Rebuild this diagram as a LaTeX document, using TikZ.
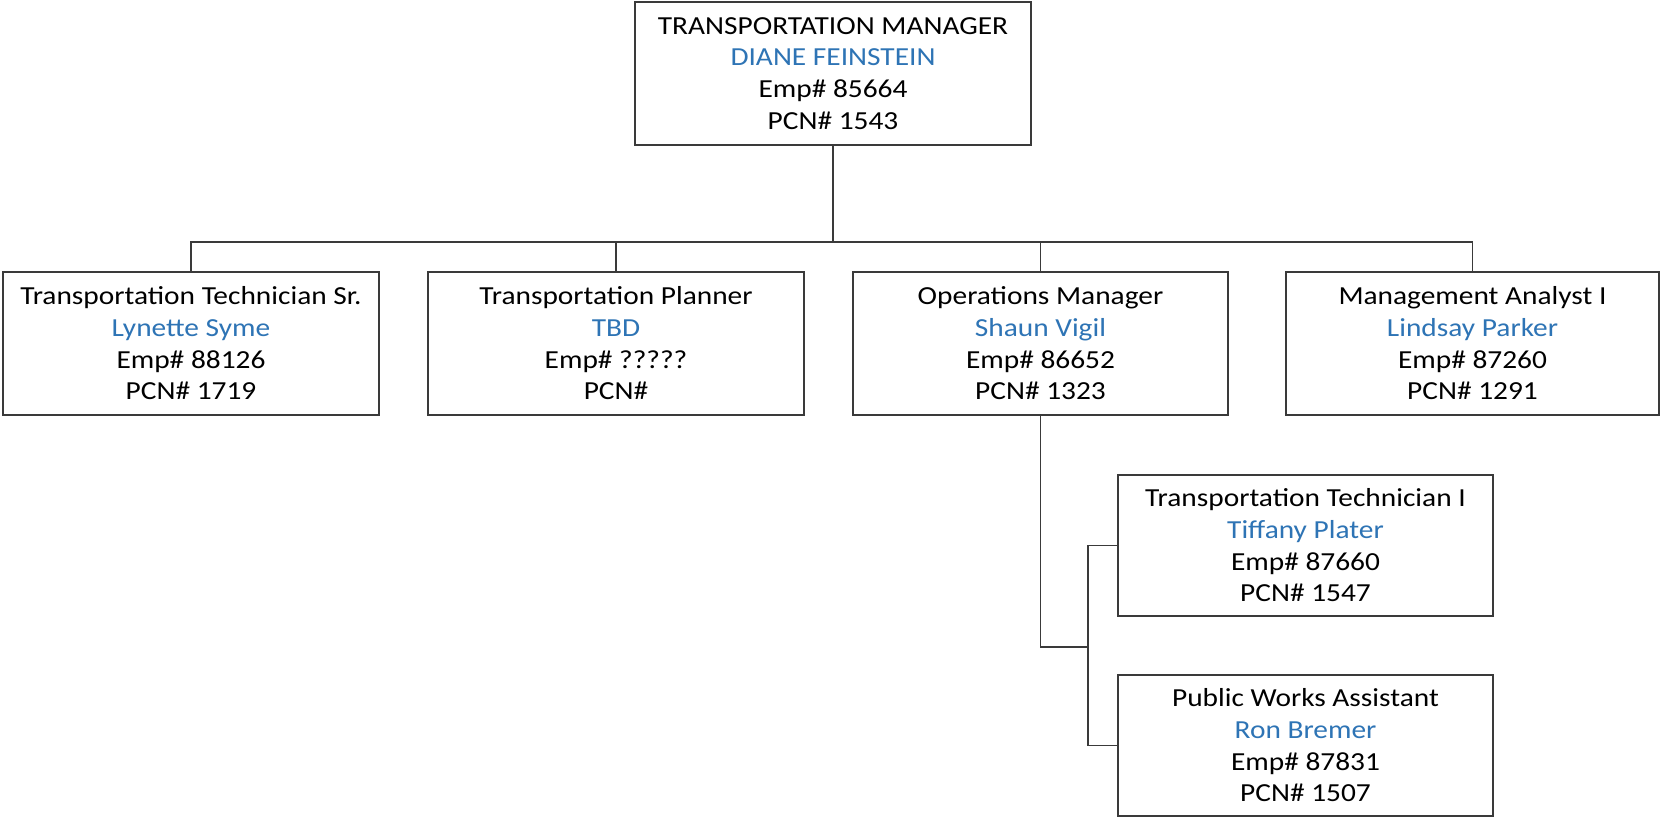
\documentclass[tikz,border=0pt]{standalone}
\usepackage{fontspec}
\setmainfont{Carlito}[FakeStretch=1.13]
\usepackage{tikz}

\begin{document}
\begin{tikzpicture}[x=0.5pt, y=-0.5pt,
  posto/.style={draw=lineGray, line width=0.7pt, fill=white, inner sep=0pt,
    align=center, minimum width=187.5pt, minimum height=71.5pt,
    font={\fontsize{13}{15.85}\selectfont}},
  linea/.style={draw=lineGray, line width=0.7pt}]

% Colori
\definecolor{lineGray}{HTML}{3A3A3A}
\definecolor{nomeBlu}{HTML}{2E74B5}

% Cornice
\useasboundingbox (0,0) rectangle (1660,817);

% Direzione
\node[posto, minimum width=198pt] (manager) at (833,73.5)
  {TRANSPORTATION MANAGER\\ \textcolor{nomeBlu}{DIANE FEINSTEIN}\\ Emp\# 85664\\ PCN\# 1543};

% Primo livello
\node[posto, minimum width=188pt] (techsr) at (191,343.5)
  {Transportation Technician Sr.\\ \textcolor{nomeBlu}{Lynette Syme}\\ Emp\# 88126\\ PCN\# 1719};
\node[posto, minimum width=188pt] (planner) at (616,343.5)
  {Transportation Planner\\ \textcolor{nomeBlu}{TBD}\\ Emp\# ?????\\ PCN\#};
\node[posto] (opsmgr) at (1040.5,343.5)
  {Operations Manager\\ \textcolor{nomeBlu}{Shaun Vigil}\\ Emp\# 86652\\ PCN\# 1323};
\node[posto, minimum width=186.5pt] (analyst) at (1472.5,343.5)
  {Management Analyst I\\ \textcolor{nomeBlu}{Lindsay Parker}\\ Emp\# 87260\\ PCN\# 1291};

% Secondo livello
\node[posto, minimum height=70.5pt] (techi) at (1305.5,545.5)
  {Transportation Technician I\\ \textcolor{nomeBlu}{Tiffany Plater}\\ Emp\# 87660\\ PCN\# 1547};
\node[posto, minimum height=70.5pt] (assistant) at (1305.5,745.5)
  {Public Works Assistant\\ \textcolor{nomeBlu}{Ron Bremer}\\ Emp\# 87831\\ PCN\# 1507};

% Collegamenti
\coordinate (bus) at (833,242);
\coordinate (subbus) at (1088,647);

\draw[linea] (manager.south) -- (bus);
\draw[linea] (techsr.north) |- (bus) -| (analyst.north);
\draw[linea] (planner.north) |- (bus);
\draw[linea] (opsmgr.north) |- (bus);
\draw[linea] (opsmgr.south) |- (subbus);
\draw[linea] (techi.west) -| (subbus) |- (assistant.west);
\end{tikzpicture}
\end{document}
